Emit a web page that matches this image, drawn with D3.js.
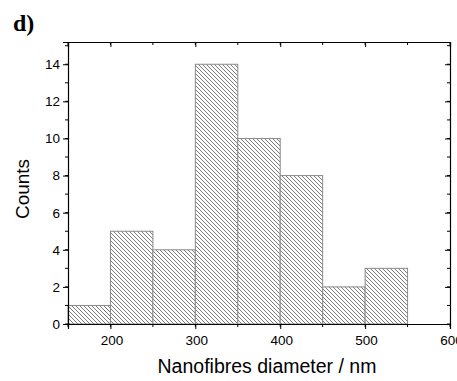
<!DOCTYPE html>
<html>
<head>
<meta charset="utf-8">
<script src="https://cdn.jsdelivr.net/npm/d3@7"></script>
<style>
  body { margin: 0; background: #fff; }
  svg { display: block; }
</style>
</head>
<body>
<div id="chart"></div>
<script>
// données de l'histogramme (bornes des classes en nm, effectifs)
const binStarts = [150, 200, 250, 300, 350, 400, 450, 500];
const binWidth = 50;
const counts = [1, 5, 4, 14, 10, 8, 2, 3];
const xTicks = [200, 300, 400, 500, 600];
const yTicks = [0, 2, 4, 6, 8, 10, 12, 14];

const W = 457, H = 381;
const margin = { left: 68, right: 7, top: 42, bottom: 57 };
const width = W - margin.left - margin.right;
const height = H - margin.top - margin.bottom;

const svg = d3.select("#chart").append("svg")
  .attr("width", W).attr("height", H);

// motif hachuré
const defs = svg.append("defs");
const pat = defs.append("pattern")
  .attr("id", "hatch")
  .attr("patternUnits", "userSpaceOnUse")
  .attr("width", 4).attr("height", 4);
pat.append("rect").attr("width", 4).attr("height", 4).attr("fill", "#fff");
pat.append("path")
  .attr("d", "M-1,-1 L5,5 M-1,3 L1,5 M3,-1 L5,1")
  .attr("stroke", "#6a6a6a")
  .attr("stroke-width", 0.9);

const g = svg.append("g").attr("transform", `translate(${margin.left},${margin.top})`);

const x = d3.scaleLinear().domain([150, 600]).range([0, width]);
const y = d3.scaleLinear().domain([0, 15.2]).range([height, 0]);

// barres
g.selectAll("rect.bar")
  .data(binStarts.map((b, i) => ({ b, c: counts[i] })))
  .join("rect")
  .attr("class", "bar")
  .attr("x", d => x(d.b))
  .attr("y", d => y(d.c))
  .attr("width", d => x(d.b + binWidth) - x(d.b))
  .attr("height", d => y(0) - y(d.c))
  .attr("fill", "url(#hatch)")
  .attr("stroke", "#8a8a8a")
  .attr("stroke-width", 1);

const fontTick = "13.5px Arial, 'Liberation Sans', sans-serif";
const minorX = d3.range(150, 601, 50);
const minorY = d3.range(0, 16, 1);

// axe bas
const xAxis = g.append("g").attr("transform", `translate(0,${height})`)
  .call(d3.axisBottom(x).tickValues(xTicks).tickSize(5).tickPadding(6).tickFormat(d3.format("d")));
xAxis.append("g").selectAll("line").data(minorX).join("line")
  .attr("x1", d => x(d)).attr("x2", d => x(d)).attr("y1", 0).attr("y2", 3)
  .attr("stroke", "#000");

// axe gauche
const yAxis = g.append("g")
  .call(d3.axisLeft(y).tickValues(yTicks).tickSize(5).tickPadding(3));
yAxis.append("g").selectAll("line").data(minorY).join("line")
  .attr("x1", 0).attr("x2", -3).attr("y1", d => y(d)).attr("y2", d => y(d))
  .attr("stroke", "#000");

// axe haut (graduations vers l'intérieur, sans texte)
const topAxis = g.append("g")
  .call(d3.axisTop(x).tickValues(xTicks).tickSize(-5).tickFormat(""));
topAxis.append("g").selectAll("line").data(minorX).join("line")
  .attr("x1", d => x(d)).attr("x2", d => x(d)).attr("y1", 0).attr("y2", 3)
  .attr("stroke", "#000");

// axe droit
const rightAxis = g.append("g").attr("transform", `translate(${width},0)`)
  .call(d3.axisRight(y).tickValues(yTicks).tickSize(-5).tickFormat(""));
rightAxis.append("g").selectAll("line").data(minorY).join("line")
  .attr("x1", 0).attr("x2", -3).attr("y1", d => y(d)).attr("y2", d => y(d))
  .attr("stroke", "#000");

[xAxis, yAxis, topAxis, rightAxis].forEach(a => {
  a.select(".domain").attr("stroke", "#000").attr("stroke-width", 1.2);
  a.selectAll("text").style("font", fontTick).attr("fill", "#000");
});
xAxis.selectAll(".tick text").attr("dx", 1);

// titres des axes
svg.append("text")
  .attr("x", margin.left + width / 2 + 8)
  .attr("y", 373)
  .attr("text-anchor", "middle")
  .style("font", "19.5px Arial, 'Liberation Sans', sans-serif")
  .text("Nanofibres diameter / nm");

svg.append("text")
  .attr("transform", `translate(29,${margin.top + height / 2 + 6}) rotate(-90)`)
  .attr("text-anchor", "middle")
  .style("font", "19px Arial, 'Liberation Sans', sans-serif")
  .text("Counts");

// étiquette du panneau
svg.append("text")
  .attr("x", 13).attr("y", 31)
  .style("font", "bold 24px 'Times New Roman', 'Liberation Serif', serif")
  .text("d)");
</script>
</body>
</html>
